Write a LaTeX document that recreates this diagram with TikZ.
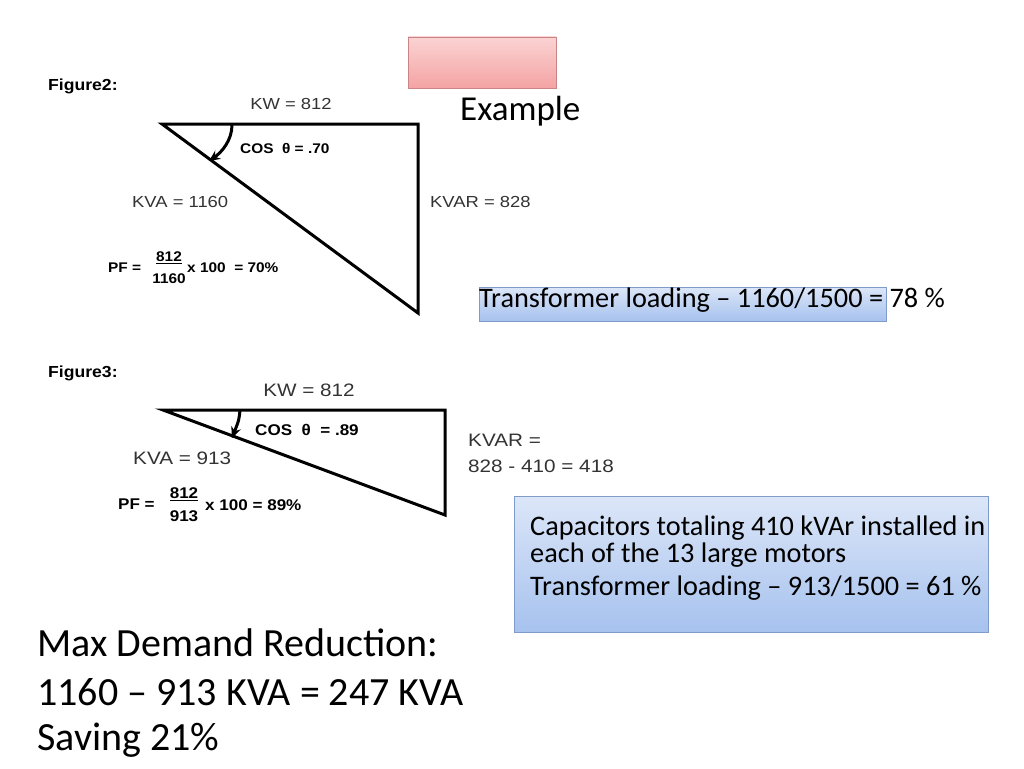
\documentclass[tikz,border=0pt]{standalone}
\usepackage{fontspec}
\usetikzlibrary{arrows.meta}
\setmainfont{Carlito}
\newfontfamily\arial{Liberation Sans}
\newfontfamily\arialw[FakeStretch=1.15]{Liberation Sans}
\newfontfamily\arialbw[FakeStretch=1.1]{Liberation Sans Bold}
\definecolor{pinktop}{HTML}{FBD3D3}
\definecolor{pinkbot}{HTML}{F4A3A3}
\definecolor{pinkline}{HTML}{C98585}
\definecolor{bluetop}{HTML}{DCE6F8}
\definecolor{bluebot}{HTML}{A6C2EE}
\definecolor{blueline}{HTML}{7F9BC9}
\begin{document}
\begin{tikzpicture}[x=1pt,y=-1pt,
  lbl/.style={font=\arialw\fontsize{16}{26}\selectfont, text=black!80, inner sep=0pt, anchor=west},
  lblb/.style={font=\arialw\fontsize{18}{26}\selectfont, text=black!80, inner sep=0pt, anchor=west},
  blbl/.style={font=\arialbw\fontsize{14}{16}\selectfont, inner sep=0pt, anchor=west},
  blblb/.style={font=\arialbw\fontsize{15.5}{16}\selectfont, inner sep=0pt, anchor=west},
  figt/.style={font=\arialbw\fontsize{16}{18}\selectfont, inner sep=0pt, anchor=west},
  tri/.style={line width=3pt, line join=miter},
  arc/.style={line width=3pt, -{Stealth[length=11pt,width=10pt]}},
  slide/.style={font=\fontsize{28.3}{26.5}\selectfont, inner sep=0pt, anchor=west},
  big/.style={font=\fontsize{40}{48}\selectfont, inner sep=0pt, anchor=west},
  bluebox/.style={draw=blueline, line width=0.9pt, top color=bluetop, bottom color=bluebot},
]
\useasboundingbox (0,0) rectangle (1024,768);
\fill[white] (0,0) rectangle (1024,768);

% pink header box
\node[draw=pinkline, line width=0.9pt, top color=pinktop, bottom color=pinkbot, minimum width=148pt, minimum height=51pt, inner sep=0pt] (hdr) at (482,62.5) {};
\node[font=\fontsize{35}{40}\selectfont, inner sep=0pt, anchor=west] (ex) at (460,111) {Example};

% ---------- Figure 2 ----------
\node[figt] (f2) at (48,86) {Figure2:};
\coordinate (a1) at (162,124);
\coordinate (b1) at (418,124);
\coordinate (c1) at (418,313);
\draw[tri] (a1) -- (b1) -- (c1) -- cycle;
\coordinate (s1) at (232,125);
\coordinate (e1) at (209,161);
\draw[arc] (s1) .. controls (232,140) and (222,152) .. (e1);
\node[lbl, anchor=center] (kw1) at (291,104) {KW = 812};
\node[blbl] (cos1) at (240,148) {COS \ θ = .70};
\node[lbl] (kva1) at (132,202) {KVA = 1160};
\node[lbl] (kvar1) at (430,202) {KVAR = 828};
\node[blbl] (pf1) at (108,268) {PF =};
\node[blbl, anchor=center] (n1) at (169,258) {\underline{812}};
\node[blbl, anchor=center] (d1) at (169,279) {1160};
\node[blbl] (r1) at (187,268) {x 100 \ = 70\%};

% ---------- Figure 3 ----------
\node[figt] (f3) at (48,373) {Figure3:};
\coordinate (a2) at (163,410);
\coordinate (b2) at (445,410);
\coordinate (c2) at (445,515);
\draw[tri] (a2) -- (b2) -- (c2) -- cycle;
\coordinate (s2) at (240,410);
\coordinate (e2) at (232,438);
\draw[arc] (s2) .. controls (239,420) .. (e2);
\node[lblb, anchor=center] (kw2) at (309,390) {KW = 812};
\node[blblb] (cos2) at (255,430) {COS \ θ \ = .89};
\node[lblb] (kva2) at (133,458) {KVA = 913};
\node[lblb] (kvar2a) at (468,440) {KVAR =};
\node[lblb] (kvar2b) at (468,466) {828 - 410 = 418};
\node[blblb] (pf2) at (118,504) {PF =};
\node[blblb, anchor=center] (n2) at (184,494) {\underline{812}};
\node[blblb, anchor=center] (d2) at (184,516) {913};
\node[blblb] (r2) at (205,505) {x 100 = 89\%};

% ---------- blue boxes ----------
\node[bluebox, minimum width=407pt, minimum height=34pt, inner sep=0pt] (bx1) at (682.5,304) {};
\node[slide] (t1) at (479,300) {Transformer loading – 1160/1500 = 78 \%};

\node[bluebox, minimum width=474pt, minimum height=136pt, inner sep=0pt] (bx2) at (751,564) {};
\node[slide, align=left] (t2a) at (530,541.5) {Capacitors totaling 410 kVAr installed in\\each of the 13 large motors};
\node[slide] (t2c) at (530,588) {Transformer loading – 913/1500 = 61 \%};

% ---------- bottom text ----------
\node[big] (m1) at (37,643) {Max Demand Reduction:};
\node[big] (m2) at (37,692) {1160 – 913 KVA = 247 KVA};
\node[big] (m3) at (37,740) {Saving 21\%};
\end{tikzpicture}
\end{document}
